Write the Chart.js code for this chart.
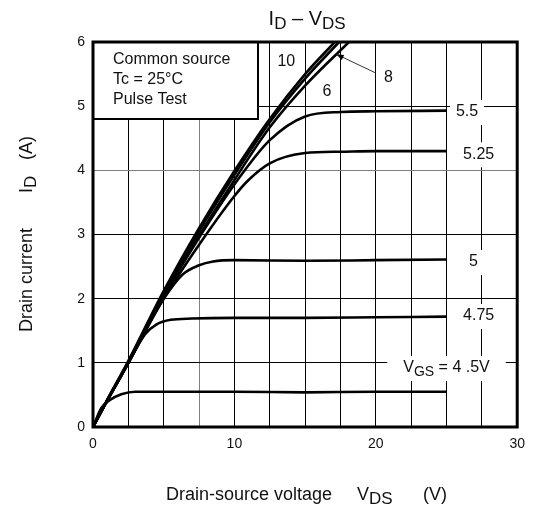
<!DOCTYPE html>
<html>
<head>
<meta charset="utf-8">
<script src="https://cdn.jsdelivr.net/npm/chart.js@4/dist/chart.umd.min.js"></script>
<style>
  html, body { margin: 0; padding: 0; background: #fff; }
  #wrap { width: 534px; height: 508px; }
</style>
</head>
<body>
<div id="wrap"><canvas id="c" width="534" height="508"></canvas></div>
<script>
// ---- Data ----
const vgsLabels = ['10', '8', '6', '5.5', '5.25', '5', '4.75', '4.5'];

const vds_10  = [0, 1, 2.5, 5, 7.5, 10, 12.5, 15, 17.1];
const id_10   = [0, 0.42, 1.03, 2.12, 3.1, 3.99, 4.8, 5.5, 6.0];

const vds_8   = [0, 1, 2.5, 5, 7.5, 10, 12.5, 15, 17.4];
const id_8    = [0, 0.42, 1.02, 2.09, 3.05, 3.93, 4.75, 5.43, 6.0];

const vds_6   = [0, 1, 2.5, 5, 7.5, 10, 12.5, 15, 18.1];
const id_6    = [0, 0.41, 1.0, 2.06, 2.98, 3.85, 4.67, 5.32, 6.0];

const vds_5p5 = [0, 1, 2.5, 5, 7.5, 10, 12.5, 15, 17.5, 20, 25];
const id_5p5  = [0, 0.41, 1.0, 2.04, 2.95, 3.78, 4.47, 4.84, 4.91, 4.92, 4.93];

const vds_5p25 = [0, 1, 2.5, 5, 7.5, 10, 11, 12.5, 15, 17.5, 20, 25];
const id_5p25  = [0, 0.41, 1.0, 2.0, 2.84, 3.6, 3.85, 4.11, 4.27, 4.29, 4.3, 4.3];

const vds_5   = [0, 1, 2.5, 4, 5, 6.3, 7.5, 8.5, 10, 15, 20, 25];
const id_5    = [0, 0.41, 1.0, 1.63, 2.0, 2.37, 2.52, 2.58, 2.6, 2.59, 2.6, 2.61];

const vds_4p75 = [0, 1, 2.5, 3, 3.7, 4.5, 5.5, 7, 10, 15, 20, 25];
const id_4p75  = [0, 0.41, 1.0, 1.2, 1.45, 1.6, 1.67, 1.69, 1.7, 1.7, 1.71, 1.72];

const vds_4p5 = [0, 0.6, 1.2, 2, 3, 5, 10, 15, 20, 25];
const id_4p5  = [0, 0.3, 0.42, 0.51, 0.55, 0.55, 0.55, 0.54, 0.55, 0.55];

const xTickLabels = ['0', '10', '20', '30'];
const yTickLabels = ['0', '1', '2', '3', '4', '5', '6'];

const conditionLines = ['Common source', 'Tc = 25°C', 'Pulse Test'];

// ---- Helpers ----
const FONT = '"Liberation Sans", Arial, Helvetica, sans-serif';
function pts(xs, ys) { return xs.map((x, i) => ({ x: x, y: ys[i] })); }

const seriesX = [vds_10, vds_8, vds_6, vds_5p5, vds_5p25, vds_5, vds_4p75, vds_4p5];
const seriesY = [id_10, id_8, id_6, id_5p5, id_5p25, id_5, id_4p75, id_4p5];

const datasets = vgsLabels.map((lab, i) => ({
  label: 'VGS = ' + lab + ' V',
  data: pts(seriesX[i], seriesY[i]),
  showLine: true,
  borderColor: '#000',
  backgroundColor: '#000',
  borderWidth: 2.6,
  pointRadius: 0,
  cubicInterpolationMode: 'monotone',
  fill: false
}));

function richWidth(ctx, parts) {
  let w = 0;
  parts.forEach(p => { ctx.font = p.size + 'px ' + FONT; w += ctx.measureText(p.t).width + (p.gap || 0); });
  return w;
}
function drawRich(ctx, parts, x, y) {
  let cx = x;
  parts.forEach(p => {
    cx += (p.gap || 0);
    ctx.font = p.size + 'px ' + FONT;
    ctx.fillText(p.t, cx, y + (p.dy || 0));
    cx += ctx.measureText(p.t).width;
  });
}

const curveLabels = [
  { parts: [{ t: '10', size: 16 }], x: 13.67, y: 5.70, box: false },
  { parts: [{ t: '8', size: 16 }], x: 20.89, y: 5.44, box: true },
  { parts: [{ t: '6', size: 16 }], x: 16.54, y: 5.22, box: false },
  { parts: [{ t: '5.5', size: 16 }], x: 26.45, y: 4.91, box: true },
  { parts: [{ t: '5.25', size: 16 }], x: 27.27, y: 4.25, box: true },
  { parts: [{ t: '5', size: 16 }], x: 26.9, y: 2.57, box: true },
  { parts: [{ t: '4.75', size: 16 }], x: 27.27, y: 1.73, box: true },
  { parts: [{ t: 'V', size: 16 }, { t: 'GS', size: 14, dy: 4 }, { t: ' = 4 .5V', size: 16 }], x: 25.0, y: 0.92, box: true, padX: 16 }
];

const overlay = {
  id: 'overlay',
  afterDatasetsDraw(chart) {
    const ctx = chart.ctx;
    const xs = chart.scales.x, ys = chart.scales.y;
    const a = chart.chartArea;
    ctx.save();
    ctx.textBaseline = 'middle';
    curveLabels.forEach(l => {
      const w = richWidth(ctx, l.parts);
      const cx = xs.getPixelForValue(l.x), cy = ys.getPixelForValue(l.y);
      if (l.box) {
        const px = l.padX || 6;
        ctx.fillStyle = '#fff';
        ctx.fillRect(cx - w / 2 - px, cy - 12, w + 2 * px, 25);
      }
      ctx.fillStyle = '#111';
      drawRich(ctx, l.parts, cx - w / 2, cy);
    });
    // leader line for "8"
    const x1 = xs.getPixelForValue(19.97), y1 = ys.getPixelForValue(5.52);
    const x2 = xs.getPixelForValue(17.2), y2 = ys.getPixelForValue(5.81);
    ctx.strokeStyle = '#333';
    ctx.lineWidth = 1;
    ctx.beginPath(); ctx.moveTo(x1, y1); ctx.lineTo(x2, y2); ctx.stroke();
    const ang = Math.atan2(y2 - y1, x2 - x1);
    ctx.fillStyle = '#000';
    ctx.beginPath();
    ctx.moveTo(x2, y2);
    ctx.lineTo(x2 - 8 * Math.cos(ang - 0.35), y2 - 8 * Math.sin(ang - 0.35));
    ctx.lineTo(x2 - 8 * Math.cos(ang + 0.35), y2 - 8 * Math.sin(ang + 0.35));
    ctx.closePath(); ctx.fill();
    // conditions box
    const bx = a.left, by = a.top, bw = 165, bh = 77;
    ctx.fillStyle = '#fff';
    ctx.fillRect(bx, by, bw, bh);
    ctx.strokeStyle = '#000';
    ctx.lineWidth = 2;
    ctx.strokeRect(bx, by, bw, bh);
    ctx.fillStyle = '#111';
    ctx.font = '16px ' + FONT;
    ctx.textBaseline = 'alphabetic';
    conditionLines.forEach((t, i) => ctx.fillText(t, bx + 20, by + 22 + i * 20));
    // plot frame
    ctx.strokeStyle = '#000';
    ctx.lineWidth = 3;
    ctx.strokeRect(a.left, a.top, a.right - a.left, a.bottom - a.top);
    ctx.restore();
  },
  afterDraw(chart) {
    const ctx = chart.ctx;
    const a = chart.chartArea;
    ctx.save();
    ctx.fillStyle = '#111';
    ctx.textBaseline = 'alphabetic';
    const tparts = [{ t: 'I', size: 20 }, { t: 'D', size: 17, dy: 4 }, { t: ' – V', size: 20 }, { t: 'DS', size: 17, dy: 4 }];
    const tw = richWidth(ctx, tparts);
    drawRich(ctx, tparts, (a.left + a.right) / 2 - tw / 2 + 2, 25);
    drawRich(ctx, [{ t: 'Drain-source voltage', size: 18 }], 166, 500);
    drawRich(ctx, [{ t: 'V', size: 18 }, { t: 'DS', size: 17, dy: 4 }], 357, 500);
    drawRich(ctx, [{ t: '(V)', size: 18 }], 423, 500);
    ctx.translate(32, 0);
    ctx.rotate(-Math.PI / 2);
    drawRich(ctx, [{ t: 'Drain current', size: 18 }], -332, 0);
    drawRich(ctx, [{ t: 'I', size: 18 }, { t: 'D', size: 17, dy: 4 }], -193, 0);
    drawRich(ctx, [{ t: '(A)', size: 18 }], -160, 0);
    ctx.restore();
  }
};

new Chart(document.getElementById('c'), {
  type: 'scatter',
  data: { datasets: datasets },
  options: {
    responsive: false,
    animation: false,
    devicePixelRatio: 1,
    layout: { padding: { left: 0, right: 13, top: 42, bottom: 51 } },
    plugins: { legend: { display: false }, tooltip: { enabled: false }, title: { display: false } },
    scales: {
      x: {
        type: 'linear', min: 0, max: 30,
        afterFit(s) { s.height = 30; },
        afterBuildTicks(s) { s.ticks = []; for (let v = 0; v <= 30; v += 2.5) s.ticks.push({ value: v }); },
        ticks: {
          autoSkip: false, maxRotation: 0, padding: 9, color: '#111',
          font: { family: FONT, size: 14 },
          callback: (v) => { const i = xTickLabels.indexOf(String(v)); return i >= 0 ? xTickLabels[i] : ''; }
        },
        grid: {
          drawTicks: false, lineWidth: 1,
          color: (c) => (c.tick && c.tick.value === 7.5) ? '#808080' : '#000'
        },
        border: { display: false }
      },
      y: {
        type: 'linear', min: 0, max: 6,
        afterFit(s) { s.width = 93; },
        ticks: {
          stepSize: 1, padding: 8, color: '#111',
          font: { family: FONT, size: 14 },
          callback: (v) => yTickLabels[v] !== undefined ? yTickLabels[v] : ''
        },
        grid: {
          drawTicks: false, lineWidth: 1,
          color: (c) => (c.tick && c.tick.value === 4) ? '#808080' : '#000'
        },
        border: { display: false }
      }
    }
  },
  plugins: [overlay]
});
</script>
</body>
</html>
